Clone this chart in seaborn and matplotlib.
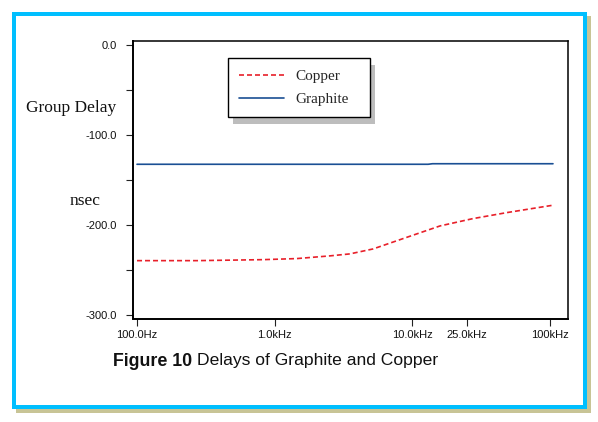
import matplotlib
matplotlib.use("Agg")
import matplotlib.pyplot as plt
import matplotlib.patches as mpatches
import seaborn as sns
import pandas as pd

# ---- data ----
freq_copper = [100, 273, 822, 1450, 2520, 3520, 5180, 9140, 15900, 27500, 48600, 84500, 105000]
delay_copper = [-239.7, -239.7, -238.6, -237.4, -234.4, -232.2, -226.7, -213.7, -201.1, -193.0, -186.3, -180.4, -178.1]
freq_graphite = [100, 1000, 13000, 14000, 105000]
delay_graphite = [-132.6, -132.6, -132.6, -132.0, -132.0]

x_ticks = [100, 1000, 10000, 25000, 100000]
x_tick_labels = ["100.0Hz", "1.0kHz", "10.0kHz", "25.0kHz", "100kHz"]
y_ticks = [0, -100, -200, -300]
y_tick_labels = ["0.0", "-100.0", "-200.0", "-300.0"]
y_minor_ticks = [-50, -150, -250]

series_names = ["Copper", "Graphite"]
series_colors = ["#e8202a", "#1a4f94"]

df = pd.concat([
    pd.DataFrame({"freq": freq_copper, "delay": delay_copper, "series": "Copper"}),
    pd.DataFrame({"freq": freq_graphite, "delay": delay_graphite, "series": "Graphite"}),
], ignore_index=True)

sns.set_theme(style="white")
plt.rcParams["font.family"] = ["Liberation Sans", "DejaVu Sans"]
plt.rcParams["lines.scale_dashes"] = False

W, H = 598, 422
DPI = 100
fig = plt.figure(figsize=(W / DPI, H / DPI), dpi=DPI)
fig.patch.set_facecolor("white")

def fx(px):
    return px / W

def fy(py):
    return 1 - py / H

# khaki shadow + cyan border
fig.patches.append(mpatches.Rectangle((fx(16), fy(413)), fx(591) - fx(16), fy(16) - fy(413),
                                      transform=fig.transFigure, facecolor="#c8c496",
                                      edgecolor="none", zorder=-3))
fig.patches.append(mpatches.Rectangle((fx(14), fy(407)), fx(585) - fx(14), fy(14) - fy(407),
                                      transform=fig.transFigure, facecolor="white",
                                      edgecolor="#00bfff", linewidth=4 * 72 / DPI, zorder=-2))

ax = fig.add_axes([fx(133), fy(318.5), fx(568) - fx(133), fy(41) - fy(318.5)])
ax.set_facecolor("white")

sns.lineplot(data=df, x="freq", y="delay", hue="series", style="series",
             hue_order=series_names, style_order=series_names,
             palette=dict(zip(series_names, series_colors)),
             dashes={"Copper": (5 * 72 / DPI, 3 * 72 / DPI), "Graphite": ""},
             estimator=None, sort=False, linewidth=1.2, ax=ax)

ax.set_xscale("log")
ax.set_xlim(93.5, 135000)
ax.set_ylim(-304, 4.4)
ax.set_xticks(x_ticks)
ax.set_xticklabels(x_tick_labels)
ax.xaxis.set_minor_locator(matplotlib.ticker.NullLocator())
ax.set_yticks(y_ticks)
ax.set_yticklabels(y_tick_labels)
ax.set_yticks(y_minor_ticks, minor=True)
ax.set_xlabel("")
ax.set_ylabel("")

for s in ax.spines.values():
    s.set_visible(True)
    s.set_color("black")
    s.set_linewidth(1.1)
ax.spines["left"].set_linewidth(1.4)
ax.spines["bottom"].set_linewidth(1.4)

ax.tick_params(axis="both", which="both", direction="out", length=4.7, width=0.8,
               color="#222222", labelsize=8, labelcolor="#111111")
ax.tick_params(axis="y", which="both", left=True, pad=7)
ax.tick_params(axis="x", which="major", bottom=True, pad=3.5)

# legend (expanded to the reference box width)
handles, labels = ax.get_legend_handles_labels()
leg = ax.legend(handles, labels, loc="upper left",
                bbox_to_anchor=(fx(228), fy(119), fx(370) - fx(228), fy(58) - fy(119)),
                bbox_transform=fig.transFigure, mode="expand",
                borderaxespad=0, frameon=True, fancybox=False, shadow=False, framealpha=1.0,
                prop={"family": "Liberation Serif", "size": 11},
                handlelength=2.9, handletextpad=0.75, borderpad=0.75, labelspacing=0.6)
leg.get_frame().set_edgecolor("black")
leg.get_frame().set_linewidth(1.0)
leg.get_frame().set_facecolor("white")
leg.get_frame().set_alpha(1.0)
leg.set_zorder(6)

# y-axis labels
fig.text(fx(71), fy(108), "Group Delay", ha="center", va="center",
         family="Liberation Serif", fontsize=12.5, color="#111111")
fig.text(fx(85), fy(201), "nsec", ha="center", va="center",
         family="Liberation Serif", fontsize=12.5, color="#111111")

# caption
t1 = fig.text(fx(113), fy(361), "Figure 10", ha="left", va="center",
              fontsize=12.8, fontweight="bold", color="#111111")
fig.canvas.draw()
r = fig.canvas.get_renderer()
bb = t1.get_window_extent(r)
fig.text(bb.x1 / W + fx(5), fy(361), "Delays of Graphite and Copper", ha="left", va="center",
         fontsize=12.6, color="#111111")

# legend shadow
lb = leg.get_window_extent(r)
ox, oy = 5, 7
ax.add_patch(mpatches.Rectangle(((lb.x0 + ox) / W, (lb.y0 - oy) / H), lb.width / W, lb.height / H,
                                transform=fig.transFigure, facecolor="#bdbdbd",
                                edgecolor="none", zorder=5, clip_on=False))

fig.savefig("out.png", dpi=DPI, facecolor=fig.get_facecolor())
